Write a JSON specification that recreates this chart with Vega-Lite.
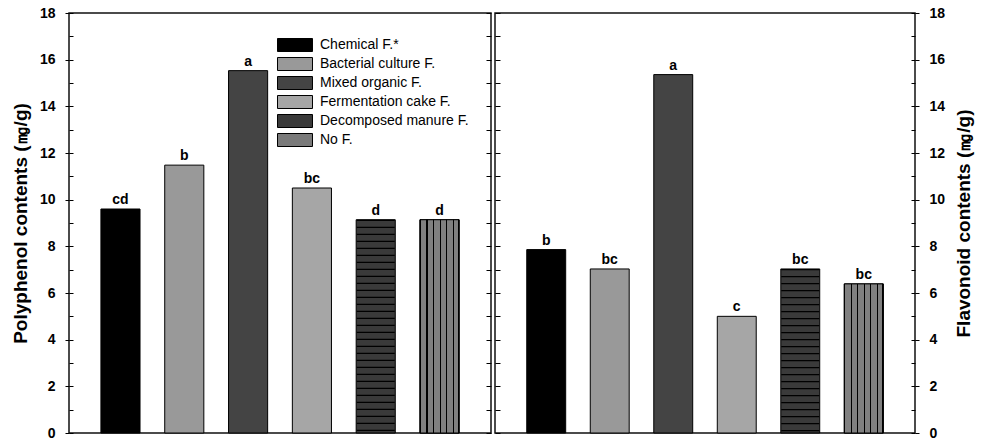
{
  "$schema": "https://vega.github.io/schema/vega-lite/v6.json",
  "padding": {"left": 10, "top": 5, "right": 5, "bottom": 2},
  "background": "white",
  "config": {
    "font": "Liberation Sans",
    "view": {"stroke": "#111", "strokeWidth": 1.5},
    "axis": {"grid": false, "domain": false, "tickColor": "#000", "labelColor": "#000", "titleColor": "#000", "tickWidth": 1}
  },
  "datasets": {
    "poly": [
      {"fert": "Chemical F.*", "value": 9.6, "sig": "cd"},
      {"fert": "Bacterial culture F.", "value": 11.48, "sig": "b"},
      {"fert": "Mixed organic F.", "value": 15.53, "sig": "a"},
      {"fert": "Fermentation cake F.", "value": 10.5, "sig": "bc"},
      {"fert": "Decomposed manure F.", "value": 9.14, "sig": "d"},
      {"fert": "No F.", "value": 9.14, "sig": "d"}
    ],
    "flav": [
      {"fert": "Chemical F.*", "value": 7.86, "sig": "b"},
      {"fert": "Bacterial culture F.", "value": 7.03, "sig": "bc"},
      {"fert": "Mixed organic F.", "value": 15.36, "sig": "a"},
      {"fert": "Fermentation cake F.", "value": 5.0, "sig": "c"},
      {"fert": "Decomposed manure F.", "value": 7.03, "sig": "bc"},
      {"fert": "No F.", "value": 6.39, "sig": "bc"}
    ]
  },
  "spacing": 0,
  "hconcat": [
    {
      "width": 422,
      "height": 420,
      "data": {"name": "poly"},
      "resolve": {"scale": {"y": "independent"}},
      "layer": [
        {
          "mark": {"type": "bar", "stroke": "#000", "strokeWidth": 1},
          "encoding": {
            "x": {"field": "fert", "type": "nominal", "sort": null, "axis": null,
                  "scale": {"domain": ["Chemical F.*", "Bacterial culture F.", "Mixed organic F.", "Fermentation cake F.", "Decomposed manure F.", "No F."], "paddingInner": 0.387, "paddingOuter": 0.5}},
            "y": {"field": "value", "type": "quantitative", "scale": {"domain": [0, 18], "nice": false},
                  "axis": {"orient": "left", "values": [0, 2, 4, 6, 8, 10, 12, 14, 16, 18], "title": "Polyphenol contents (㎎/g)",
                           "titleFontSize": 19, "titleFontWeight": "bold", "titlePadding": 9,
                           "labelFontSize": 14, "labelFontWeight": "bold", "labelPadding": 10, "tickSize": 4}},
            "fill": {"field": "fert", "type": "nominal", "sort": null,
                     "scale": {"domain": ["Chemical F.*", "Bacterial culture F.", "Mixed organic F.", "Fermentation cake F.", "Decomposed manure F.", "No F."],
                               "range": ["#000000", "#999999", "#444444", "#a6a6a6", "#3a3a3a", "#7a7a7a"]},
                     "legend": {"orient": "none", "legendX": 219, "legendY": 25, "title": null, "padding": 0,
                                "symbolType": "M-2.69,-1H2.69V1H-2.69Z", "symbolSize": 169, "symbolStrokeColor": "#000", "symbolStrokeWidth": 1,
                                "labelFontSize": 14, "labelColor": "#000", "labelOffset": 18, "rowPadding": 1}}
          }
        },
        {
          "transform": [{"filter": "datum.fert === 'Decomposed manure F.'"}],
          "mark": {"type": "rule", "color": "#000", "strokeWidth": 38, "strokeDash": [1.2, 5.8]},
          "encoding": {
            "x": {"field": "fert", "type": "nominal", "sort": null,
                  "scale": {"domain": ["Chemical F.*", "Bacterial culture F.", "Mixed organic F.", "Fermentation cake F.", "Decomposed manure F.", "No F."]}},
            "y": {"field": "value", "type": "quantitative", "scale": {"domain": [0, 18], "nice": false},
                  "axis": {"orient": "left", "values": [0,1,2,3,4,5,6,7,8,9,10,11,12,13,14,15,16,17,18], "labels": false, "title": null, "tickSize": -4}},
            "y2": {"datum": 0}
          }
        },
        {
          "transform": [{"filter": "datum.fert === 'No F.'"}],
          "mark": {"type": "bar", "stroke": "#000", "strokeWidth": 1,
                   "fill": {"gradient": "linear", "x1": 0, "y1": 0, "x2": 1, "y2": 0, "stops": [
                     {"offset": 0, "color": "#000"}, {"offset": 0.03, "color": "#000"}, {"offset": 0.03, "color": "#808080"},
                     {"offset": 0.1667, "color": "#808080"}, {"offset": 0.1667, "color": "#000"}, {"offset": 0.1967, "color": "#000"}, {"offset": 0.1967, "color": "#808080"},
                     {"offset": 0.3333, "color": "#808080"}, {"offset": 0.3333, "color": "#000"}, {"offset": 0.3633, "color": "#000"}, {"offset": 0.3633, "color": "#808080"},
                     {"offset": 0.5, "color": "#808080"}, {"offset": 0.5, "color": "#000"}, {"offset": 0.53, "color": "#000"}, {"offset": 0.53, "color": "#808080"},
                     {"offset": 0.6667, "color": "#808080"}, {"offset": 0.6667, "color": "#000"}, {"offset": 0.6967, "color": "#000"}, {"offset": 0.6967, "color": "#808080"},
                     {"offset": 0.8333, "color": "#808080"}, {"offset": 0.8333, "color": "#000"}, {"offset": 0.8633, "color": "#000"}, {"offset": 0.8633, "color": "#808080"},
                     {"offset": 0.97, "color": "#808080"}, {"offset": 0.97, "color": "#000"}, {"offset": 1, "color": "#000"}]}},
          "encoding": {
            "x": {"field": "fert", "type": "nominal", "sort": null,
                  "scale": {"domain": ["Chemical F.*", "Bacterial culture F.", "Mixed organic F.", "Fermentation cake F.", "Decomposed manure F.", "No F."]}},
            "y": {"field": "value", "type": "quantitative", "scale": {"domain": [0, 18], "nice": false}, "axis": null}
          }
        },
        {
          "mark": {"type": "text", "fontSize": 14, "fontWeight": "bold", "dy": -5, "baseline": "alphabetic", "color": "#000"},
          "encoding": {
            "x": {"field": "fert", "type": "nominal", "sort": null,
                  "scale": {"domain": ["Chemical F.*", "Bacterial culture F.", "Mixed organic F.", "Fermentation cake F.", "Decomposed manure F.", "No F."]}},
            "y": {"field": "value", "type": "quantitative", "scale": {"domain": [0, 18], "nice": false},
                  "axis": {"orient": "right", "values": [0,1,2,3,4,5,6,7,8,9,10,11,12,13,14,15,16,17,18], "labels": false, "title": null, "tickSize": -5}},
            "text": {"field": "sig"}
          }
        }
      ]
    },
    {
      "width": 420,
      "height": 420,
      "data": {"name": "flav"},
      "resolve": {"scale": {"y": "independent"}},
      "layer": [
        {
          "mark": {"type": "bar", "stroke": "#000", "strokeWidth": 1},
          "encoding": {
            "x": {"field": "fert", "type": "nominal", "sort": null, "axis": null,
                  "scale": {"domain": ["Chemical F.*", "Bacterial culture F.", "Mixed organic F.", "Fermentation cake F.", "Decomposed manure F.", "No F."], "paddingInner": 0.387, "paddingOuter": 0.5}},
            "y": {"field": "value", "type": "quantitative", "scale": {"domain": [0, 18], "nice": false},
                  "axis": {"orient": "right", "values": [0, 2, 4, 6, 8, 10, 12, 14, 16, 18], "title": "Flavonoid contents (㎎/g)",
                           "titleFontSize": 19, "titleFontWeight": "bold", "titlePadding": 10, "titleAngle": 270, "titleBaseline": "top",
                           "labelFontSize": 14, "labelFontWeight": "bold", "labelPadding": 10, "tickSize": 4}},
            "fill": {"field": "fert", "type": "nominal", "sort": null,
                     "scale": {"domain": ["Chemical F.*", "Bacterial culture F.", "Mixed organic F.", "Fermentation cake F.", "Decomposed manure F.", "No F."],
                               "range": ["#000000", "#999999", "#444444", "#a6a6a6", "#3a3a3a", "#7a7a7a"]},
                     "legend": null}
          }
        },
        {
          "transform": [{"filter": "datum.fert === 'Decomposed manure F.'"}],
          "mark": {"type": "rule", "color": "#000", "strokeWidth": 38, "strokeDash": [1.2, 5.8]},
          "encoding": {
            "x": {"field": "fert", "type": "nominal", "sort": null,
                  "scale": {"domain": ["Chemical F.*", "Bacterial culture F.", "Mixed organic F.", "Fermentation cake F.", "Decomposed manure F.", "No F."]}},
            "y": {"field": "value", "type": "quantitative", "scale": {"domain": [0, 18], "nice": false},
                  "axis": {"orient": "right", "values": [0,1,2,3,4,5,6,7,8,9,10,11,12,13,14,15,16,17,18], "labels": false, "title": null, "tickSize": -4}},
            "y2": {"datum": 0}
          }
        },
        {
          "transform": [{"filter": "datum.fert === 'No F.'"}],
          "mark": {"type": "bar", "stroke": "#000", "strokeWidth": 1,
                   "fill": {"gradient": "linear", "x1": 0, "y1": 0, "x2": 1, "y2": 0, "stops": [
                     {"offset": 0, "color": "#000"}, {"offset": 0.03, "color": "#000"}, {"offset": 0.03, "color": "#808080"},
                     {"offset": 0.1667, "color": "#808080"}, {"offset": 0.1667, "color": "#000"}, {"offset": 0.1967, "color": "#000"}, {"offset": 0.1967, "color": "#808080"},
                     {"offset": 0.3333, "color": "#808080"}, {"offset": 0.3333, "color": "#000"}, {"offset": 0.3633, "color": "#000"}, {"offset": 0.3633, "color": "#808080"},
                     {"offset": 0.5, "color": "#808080"}, {"offset": 0.5, "color": "#000"}, {"offset": 0.53, "color": "#000"}, {"offset": 0.53, "color": "#808080"},
                     {"offset": 0.6667, "color": "#808080"}, {"offset": 0.6667, "color": "#000"}, {"offset": 0.6967, "color": "#000"}, {"offset": 0.6967, "color": "#808080"},
                     {"offset": 0.8333, "color": "#808080"}, {"offset": 0.8333, "color": "#000"}, {"offset": 0.8633, "color": "#000"}, {"offset": 0.8633, "color": "#808080"},
                     {"offset": 0.97, "color": "#808080"}, {"offset": 0.97, "color": "#000"}, {"offset": 1, "color": "#000"}]}},
          "encoding": {
            "x": {"field": "fert", "type": "nominal", "sort": null,
                  "scale": {"domain": ["Chemical F.*", "Bacterial culture F.", "Mixed organic F.", "Fermentation cake F.", "Decomposed manure F.", "No F."]}},
            "y": {"field": "value", "type": "quantitative", "scale": {"domain": [0, 18], "nice": false}, "axis": null}
          }
        },
        {
          "mark": {"type": "text", "fontSize": 14, "fontWeight": "bold", "dy": -5, "baseline": "alphabetic", "color": "#000"},
          "encoding": {
            "x": {"field": "fert", "type": "nominal", "sort": null,
                  "scale": {"domain": ["Chemical F.*", "Bacterial culture F.", "Mixed organic F.", "Fermentation cake F.", "Decomposed manure F.", "No F."]}},
            "y": {"field": "value", "type": "quantitative", "scale": {"domain": [0, 18], "nice": false},
                  "axis": {"orient": "left", "values": [0,1,2,3,4,5,6,7,8,9,10,11,12,13,14,15,16,17,18], "labels": false, "title": null, "tickSize": -5}},
            "text": {"field": "sig"}
          }
        }
      ]
    }
  ]
}
